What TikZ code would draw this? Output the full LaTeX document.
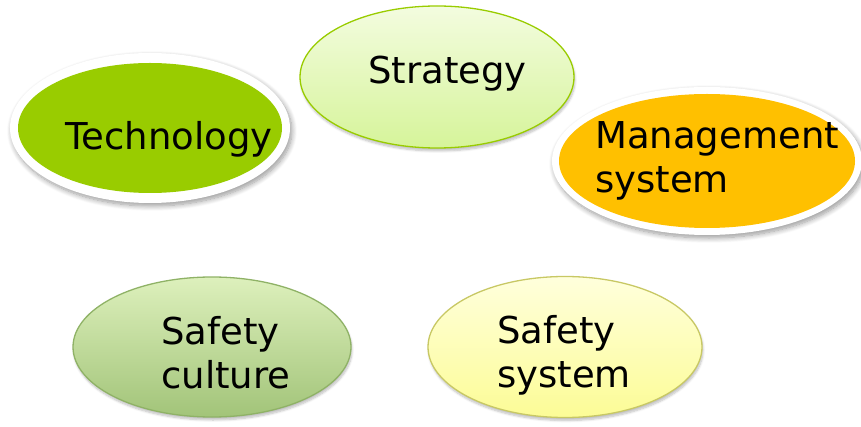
\documentclass[tikz,border=0pt]{standalone}
\usepackage{fontspec}
\setmainfont{DejaVu Sans}
\usetikzlibrary{shapes.geometric,shadows.blur}
\definecolor{techgreen}{HTML}{99CC00}
\definecolor{mgmtorange}{HTML}{FFC000}
\definecolor{strattop}{HTML}{F3FCDF}
\definecolor{stratbot}{HTML}{D6F49A}
\definecolor{culttop}{HTML}{DDF0BC}
\definecolor{cultbot}{HTML}{A2C479}
\definecolor{cultline}{HTML}{8FB266}
\definecolor{systop}{HTML}{FFFFDC}
\definecolor{sysbot}{HTML}{FCFC96}
\definecolor{sysline}{HTML}{C8C864}
\begin{document}
\begin{tikzpicture}[x=1pt, y=-1pt,
  blob/.style={ellipse, inner sep=0pt},
  rim/.style={blob, fill=white,
    blur shadow={shadow xshift=2pt, shadow yshift=-3pt, shadow blur steps=10, shadow blur radius=5pt, shadow opacity=40}},
  soft/.style={blob, line width=1.3pt,
    blur shadow={shadow xshift=1pt, shadow yshift=-3pt, shadow blur steps=6, shadow opacity=25}},
  lbl/.style={align=left, inner sep=0pt, font=\fontsize{37}{44}\selectfont, anchor=base west}]
\useasboundingbox (0,0) rectangle (861,427);
\node[rim, minimum width=280pt, minimum height=150pt] (TechRim) at (150,128) {};
\node[blob, fill=techgreen, minimum width=264pt, minimum height=130pt] (Tech) at (TechRim) {};
\node[soft, draw=techgreen, top color=strattop, bottom color=stratbot,
  minimum width=274pt, minimum height=142pt] (Strat) at (437,77) {};
\node[rim, minimum width=310pt, minimum height=148pt] (MgmtRim) at (707,161) {};
\node[blob, fill=mgmtorange, minimum width=296pt, minimum height=134pt] (Mgmt) at (MgmtRim) {};
\node[soft, draw=cultline, top color=culttop, bottom color=cultbot,
  minimum width=278pt, minimum height=140pt] (Cult) at (212,347) {};
\node[soft, draw=sysline, top color=systop, bottom color=sysbot,
  minimum width=274pt, minimum height=141pt] (Sys) at (565,347) {};
\node[lbl] (TechL) at (65,150) {Technology};
\node[lbl] (StratL) at (368,84) {Strategy};
\node[lbl] (MgmtL) at (595,193) {Management\\system};
\node[lbl] (CultL) at (161,388) {Safety\\culture};
\node[lbl] (SysL) at (497,387) {Safety\\system};
\end{tikzpicture}
\end{document}
